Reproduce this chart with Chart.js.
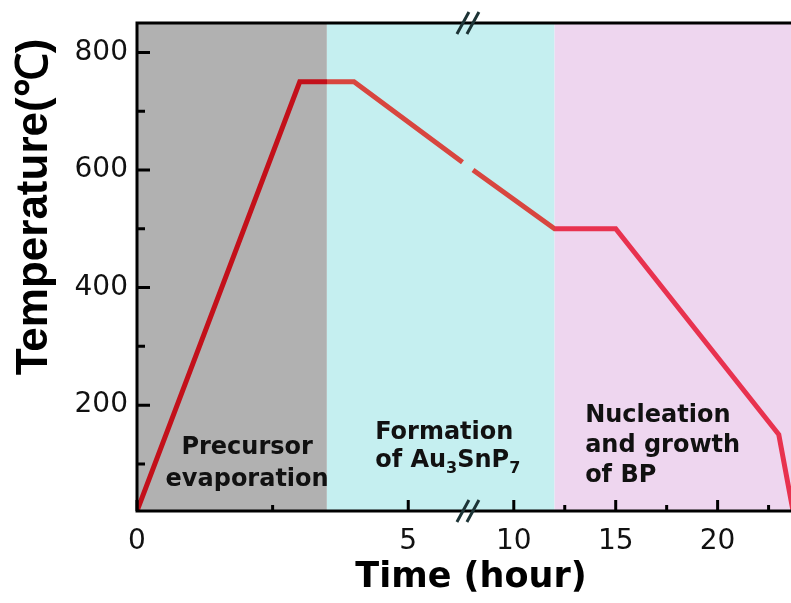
<!DOCTYPE html>
<html>
<head>
<meta charset="utf-8">
<title>Temperature profile</title>
<script src="https://cdn.jsdelivr.net/npm/chart.js@4.4.1/dist/chart.umd.min.js"></script>
<style>
  html, body { margin: 0; padding: 0; background: #fff; }
  canvas { display: block; }
</style>
</head>
<body>
<canvas id="profile" width="791" height="603"></canvas>
<script>
"use strict";

// furnace program: time (hour) against temperature (°C); null breaks the line at the axis gap
const hours = [0, 3, 4, 6, 7, 8, 12, 15, 23, 23.7];
const temps = [20, 750, 750, 613, null, 600, 500, 500, 150, 20];

const xTicks = [0, 5, 10, 15, 20];
const xMinorTicks = [2.5, 12.5, 17.5, 22.5];
const yTicks = [200, 400, 600, 800];
const yMinorTicks = [100, 300, 500, 700];

// stage limits in hours
const stageBounds = [0, 3.5, 12, 23.6];
const stageNames = [
  ['Precursor', 'evaporation'],
  ['Formation', 'of Au_3SnP_7'],
  ['Nucleation', 'and growth', 'of BP'],
];

const stageFills = ['#b1b1b1', '#c5eff0', '#eed6ef'];
const stageLine = ['#c3101a', '#d8463f', '#e8324f'];

// linear axis with a cut-out section between gapStart and gapEnd
class BrokenLinearScale extends Chart.LinearScale {
  _split() {
    return this.left + this.width * this.options.splitAt;
  }
  getPixelForValue(value) {
    const g0 = this.options.gapStart, g1 = this.options.gapEnd;
    const split = this._split();
    if (value <= g0) return this.left + (value - this.min) / (g0 - this.min) * (split - this.left);
    if (value < g1) return split;
    return split + (value - g1) / (this.max - g1) * (this.right - split);
  }
  getValueForPixel(pixel) {
    const g0 = this.options.gapStart, g1 = this.options.gapEnd;
    const split = this._split();
    if (pixel <= split) return this.min + (pixel - this.left) / (split - this.left) * (g0 - this.min);
    return g1 + (pixel - split) / (this.right - split) * (this.max - g1);
  }
}
BrokenLinearScale.id = 'brokenLinear';
BrokenLinearScale.defaults = Chart.LinearScale.defaults;
Chart.register(BrokenLinearScale);

function stageGradient(context) {
  const chart = context.chart;
  const area = chart.chartArea;
  if (!area) return stageLine[0];
  const x = chart.scales.x;
  const g = chart.ctx.createLinearGradient(area.left, 0, area.right, 0);
  const frac = (v) => Math.min(1, Math.max(0, (x.getPixelForValue(v) - area.left) / area.width));
  stageLine.forEach((c, i) => {
    g.addColorStop(frac(stageBounds[i]), c);
    g.addColorStop(frac(stageBounds[i + 1]), c);
  });
  return g;
}

// text with single-character subscripts written as _n
function drawRich(ctx, text, x, y, align, size) {
  const runs = [];
  for (let i = 0; i < text.length; i++) {
    if (text[i] === '_') { runs.push({ t: text[i + 1], sub: true }); i++; }
    else if (runs.length && !runs[runs.length - 1].sub) runs[runs.length - 1].t += text[i];
    else runs.push({ t: text[i], sub: false });
  }
  const font = (sub) => 'bold ' + (sub ? Math.round(size * 0.66) : size) + 'px "DejaVu Sans"';
  let width = 0;
  runs.forEach(r => { ctx.font = font(r.sub); r.w = ctx.measureText(r.t).width; width += r.w; });
  let cx = align === 'center' ? x - width / 2 : x;
  ctx.textAlign = 'left';
  runs.forEach(r => {
    ctx.font = font(r.sub);
    ctx.fillText(r.t, cx, r.sub ? y + size * 0.24 : y);
    cx += r.w;
  });
}

const stagePlugin = {
  id: 'stages',
  beforeDatasetsDraw(chart) {
    const { ctx, chartArea: a, scales: { x } } = chart;
    ctx.save();
    stageFills.forEach((c, i) => {
      const l = x.getPixelForValue(stageBounds[i]);
      const r = i === stageFills.length - 1 ? a.right : x.getPixelForValue(stageBounds[i + 1]);
      ctx.fillStyle = c;
      ctx.fillRect(l, a.top, r - l, a.bottom - a.top);
    });
    ctx.restore();
  },
  afterDatasetsDraw(chart, args, opts) {
    const { ctx, scales: { x, y } } = chart;
    ctx.save();
    ctx.fillStyle = '#111';
    ctx.textBaseline = 'alphabetic';
    opts.labels.forEach((lab, i) => {
      const px = x.getPixelForValue(lab.x);
      const py = y.getPixelForValue(lab.y);
      stageNames[i].forEach((line, j) => {
        drawRich(ctx, line, px, py + j * lab.lineHeight, lab.align, 24);
      });
    });
    ctx.restore();
  }
};

const framePlugin = {
  id: 'frame',
  afterDraw(chart) {
    const { ctx, chartArea: a, scales: { x, y } } = chart;
    ctx.save();
    ctx.strokeStyle = '#000';
    ctx.lineWidth = 3;
    ctx.lineCap = 'butt';
    ctx.beginPath();
    ctx.moveTo(a.left, a.top); ctx.lineTo(a.right, a.top);
    ctx.moveTo(a.left, a.top - 1.5); ctx.lineTo(a.left, a.bottom + 1.5);
    ctx.moveTo(a.left, a.bottom); ctx.lineTo(a.right, a.bottom);
    ctx.stroke();

    // inward tick marks
    ctx.beginPath();
    xTicks.forEach(v => { const p = x.getPixelForValue(v); ctx.moveTo(p, a.bottom); ctx.lineTo(p, a.bottom - 11); });
    xMinorTicks.forEach(v => { const p = x.getPixelForValue(v); ctx.moveTo(p, a.bottom); ctx.lineTo(p, a.bottom - 6); });
    yTicks.forEach(v => { const p = y.getPixelForValue(v); ctx.moveTo(a.left, p); ctx.lineTo(a.left + 13, p); });
    yMinorTicks.forEach(v => { const p = y.getPixelForValue(v); ctx.moveTo(a.left, p); ctx.lineTo(a.left + 8, p); });
    ctx.stroke();

    // axis break marks
    const s = x._split();
    ctx.strokeStyle = '#1d3436';
    ctx.beginPath();
    [a.top, a.bottom].forEach(cy => {
      [-5, 5].forEach(dx => {
        ctx.moveTo(s + dx - 6, cy + 11);
        ctx.lineTo(s + dx + 6, cy - 11);
      });
    });
    ctx.stroke();

    // axis titles
    ctx.fillStyle = '#000';
    ctx.textBaseline = 'alphabetic';
    ctx.textAlign = 'center';
    ctx.font = 'bold 35px "DejaVu Sans"';
    ctx.fillText('Time (hour)', a.left + a.width / 2 + 7, a.bottom + 76);
    ctx.translate(47, 207);
    ctx.rotate(-Math.PI / 2);
    ctx.font = 'bold 44px "Liberation Sans"';
    ctx.fillText('Temperature(\u2103)', 0, 0);
    ctx.restore();
  }
};

const tickFont = { family: 'DejaVu Sans', size: 28 };

new Chart(document.getElementById('profile'), {
  type: 'line',
  data: {
    datasets: [{
      data: hours.map((h, i) => ({ x: h, y: temps[i] })),
      borderColor: stageGradient,
      borderWidth: 5,
      pointRadius: 0,
      tension: 0,
      spanGaps: false,
      fill: false,
    }]
  },
  options: {
    responsive: false,
    animation: false,
    events: [],
    layout: { padding: { top: 23, right: 0, bottom: 0, left: 0 } },
    plugins: {
      legend: { display: false },
      tooltip: { enabled: false },
      stages: {
        labels: [
          { x: 2.03, y: 117, align: 'center', lineHeight: 32 },
          { x: 4.39, y: 142, align: 'left', lineHeight: 28 },
          { x: 13.5, y: 171, align: 'left', lineHeight: 30 },
        ]
      }
    },
    scales: {
      x: {
        type: 'brokenLinear',
        min: 0,
        max: 23.6,
        gapStart: 6.1,
        gapEnd: 7.75,
        splitAt: 0.506,
        afterBuildTicks: (s) => { s.ticks = xTicks.map(v => ({ value: v })); },
        afterFit: (s) => { s.height = 92; s.paddingLeft = 0; s.paddingRight = 0; },
        grid: { display: false, drawTicks: false },
        border: { display: false },
        ticks: { font: tickFont, color: '#111', padding: 14, maxRotation: 0, autoSkip: false },
      },
      y: {
        min: 20,
        max: 850,
        afterBuildTicks: (s) => { s.ticks = yTicks.map(v => ({ value: v })); },
        afterFit: (s) => { s.width = 137; s.paddingTop = 0; s.paddingBottom = 0; },
        grid: { display: false, drawTicks: false },
        border: { display: false },
        ticks: { font: tickFont, color: '#111', padding: 9 },
      }
    }
  },
  plugins: [stagePlugin, framePlugin]
});
</script>
</body>
</html>
